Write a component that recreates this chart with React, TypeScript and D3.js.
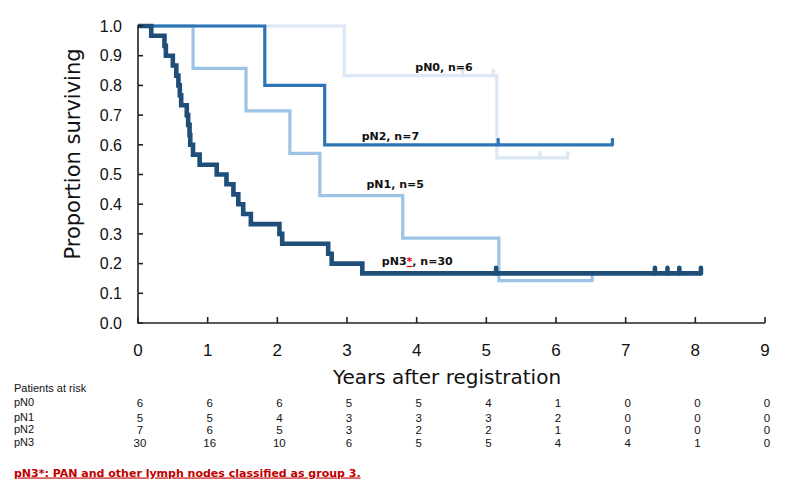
import * as d3 from 'd3'

const width = 787,
      height = 482,
      margin = { top: 26, right: 22, bottom: 159, left: 138 }

// survival steps (time in years, proportion surviving)
const pN0Times = [0, 2.96, 5.15]
const pN0Surv = [1, 0.833, 0.556]
const pN0End = 6.17
const pN0Censor = [4.66, 5.1, 5.77, 6.17]

const pN1Times = [0, 0.79, 1.55, 2.18, 2.61, 3.8, 5.18]
const pN1Surv = [1, 0.857, 0.714, 0.571, 0.429, 0.286, 0.143]
const pN1End = 6.52
const pN1Censor = [6.52]

const pN2Times = [0, 1.82, 2.68]
const pN2Surv = [1, 0.8, 0.6]
const pN2End = 6.81
const pN2Censor = [5.17, 6.81]

const pN3Times = [0, 0.19, 0.38, 0.4, 0.5, 0.55, 0.58, 0.6, 0.62, 0.7, 0.72, 0.74, 0.75, 0.79, 0.885,
  1.13, 1.27, 1.37, 1.44, 1.51, 1.62, 2.03, 2.07, 2.73, 2.78, 3.22]
const pN3Surv = [1, 0.967, 0.933, 0.9, 0.867, 0.833, 0.8, 0.767, 0.733, 0.7, 0.667, 0.633, 0.6, 0.567, 0.533,
  0.5, 0.467, 0.433, 0.4, 0.367, 0.333, 0.3, 0.267, 0.233, 0.2, 0.167]
const pN3End = 8.08
const pN3Censor = [5.14, 7.42, 7.6, 7.77, 8.08]

const xTicks = [0, 1, 2, 3, 4, 5, 6, 7, 8, 9]
const yTicks = [0, 0.1, 0.2, 0.3, 0.4, 0.5, 0.6, 0.7, 0.8, 0.9, 1.0]

const riskGroups = ['pN0', 'pN1', 'pN2', 'pN3']
const riskPN0 = [6, 6, 6, 5, 5, 4, 1, 0, 0, 0]
const riskPN1 = [5, 5, 4, 3, 3, 3, 2, 0, 0, 0]
const riskPN2 = [7, 6, 5, 3, 2, 2, 1, 0, 0, 0]
const riskPN3 = [30, 16, 10, 6, 5, 5, 4, 4, 1, 0]

const xScale = d3.scaleLinear().domain([0, 9]).range([margin.left, width - margin.right])
const yScale = d3.scaleLinear().domain([0, 1]).range([height - margin.bottom, margin.top])

const series = [
  { times: pN0Times, surv: pN0Surv, end: pN0End, censor: pN0Censor, color: '#dce8f5', w: 3.2 },
  { times: pN1Times, surv: pN1Surv, end: pN1End, censor: pN1Censor, color: '#9dc3e6', w: 3.2 },
  { times: pN2Times, surv: pN2Surv, end: pN2End, censor: pN2Censor, color: '#2e75b6', w: 3.2 },
  { times: pN3Times, surv: pN3Surv, end: pN3End, censor: pN3Censor, color: '#1f4e79', w: 4.6 }
]

const stepLine = d3.line<[number, number]>()
  .x(d => xScale(d[0]))
  .y(d => yScale(d[1]))
  .curve(d3.curveStepAfter)

const survAt = (times: number[], surv: number[], t: number) => {
  let s = surv[0]
  times.forEach((ti, i) => { if (ti <= t) s = surv[i] })
  return s
}

const Curve = ({ s }: any) => {
  const pts: [number, number][] = s.times.map((t: number, i: number) => [t, s.surv[i]])
  pts.push([s.end, s.surv[s.surv.length - 1]])
  return (
    <g>
      <path d={stepLine(pts) || ''} fill='none' stroke={s.color} strokeWidth={s.w} strokeLinejoin='miter' />
      {s.censor.map((c: number) => {
        const yy = yScale(survAt(s.times, s.surv, c - 0.001))
        return <line key={c} x1={xScale(c)} x2={xScale(c)} y1={yy} y2={yy - 5.5}
          stroke={s.color} strokeWidth={s.w} strokeLinecap='round' />
      })}
    </g>
  )
}

const labelFont = { fontFamily: 'DejaVu Sans', fontWeight: 'bold', fontSize: 11 } as const
const tickFont = { fontFamily: 'Liberation Sans, Arial, sans-serif' }

export default function App() {
  const x0 = xScale(0), x9 = xScale(9), y0 = yScale(0), y1 = yScale(1)
  const risks = [riskPN0, riskPN1, riskPN2, riskPN3]
  const rowBase = [405.5, 420.5, 432.5, 446]
  return (
    <svg width={width} height={height} style={{ position: 'absolute', left: 0, top: 0, background: '#fff' }}>
      {/* curves */}
      {series.map((s, i) => <Curve key={i} s={s} />)}

      {/* axes */}
      <g stroke='#222' strokeWidth={1.6}>
        <line x1={x0} x2={x0} y1={y1 - 1} y2={y0} />
        <line x1={x0 - 0.8} x2={x9} y1={y0} y2={y0} />
        {yTicks.map(t => <line key={t} x1={x0} x2={x0 + 5} y1={yScale(t)} y2={yScale(t)} />)}
        {xTicks.map(t => <line key={t} x1={xScale(t)} x2={xScale(t)} y1={y0} y2={y0 - 6} />)}
      </g>
      {yTicks.map(t => (
        <text key={t} x={122} y={yScale(t)} dy='0.36em' textAnchor='end' fontSize={16} fill='#111' style={tickFont}>
          {d3.format('.1f')(t)}
        </text>
      ))}
      {xTicks.map(t => (
        <text key={t} x={xScale(t)} y={356} textAnchor='middle' fontSize={17} fill='#111' style={tickFont}>{t}</text>
      ))}

      <text transform={`translate(79.5,154) rotate(-90)`} textAnchor='middle' fontSize={21}
        fontFamily='DejaVu Sans' fill='#111'>Proportion surviving</text>
      <text x={447} y={384} textAnchor='middle' fontSize={20} fontFamily='DejaVu Sans' fill='#111'>
        Years after registration
      </text>

      {/* curve labels */}
      <text x={xScale(3.98)} y={71} style={labelFont} fill='#111'>pN0, n=6</text>
      <text x={xScale(3.21)} y={139.5} style={labelFont} fill='#111'>pN2, n=7</text>
      <text x={xScale(3.28)} y={188} style={labelFont} fill='#111'>pN1, n=5</text>
      <text x={xScale(3.5)} y={265} style={labelFont} fill='#111'>
        pN3<tspan fill='#e00000' textDecoration='underline'>*</tspan>, n=30
      </text>

      {/* patients at risk */}
      <g style={tickFont} fontSize={11} fill='#111'>
        <text x={14} y={392}>Patients at risk</text>
        {riskGroups.map((g, r) => (
          <g key={g}>
            <text x={14} y={rowBase[r]}>{g}</text>
            {risks[r].map((v, i) => (
              <text key={i} x={xScale(xTicks[i]) + 2} y={rowBase[r] + 1} textAnchor='middle' fontSize={11.5}>{v}</text>
            ))}
          </g>
        ))}
      </g>

      <text x={14} y={476.5} style={labelFont} fill='#c00000' textDecoration='underline'>
        pN3*: PAN and other lymph nodes classified as group 3.
      </text>
    </svg>
  )
}
